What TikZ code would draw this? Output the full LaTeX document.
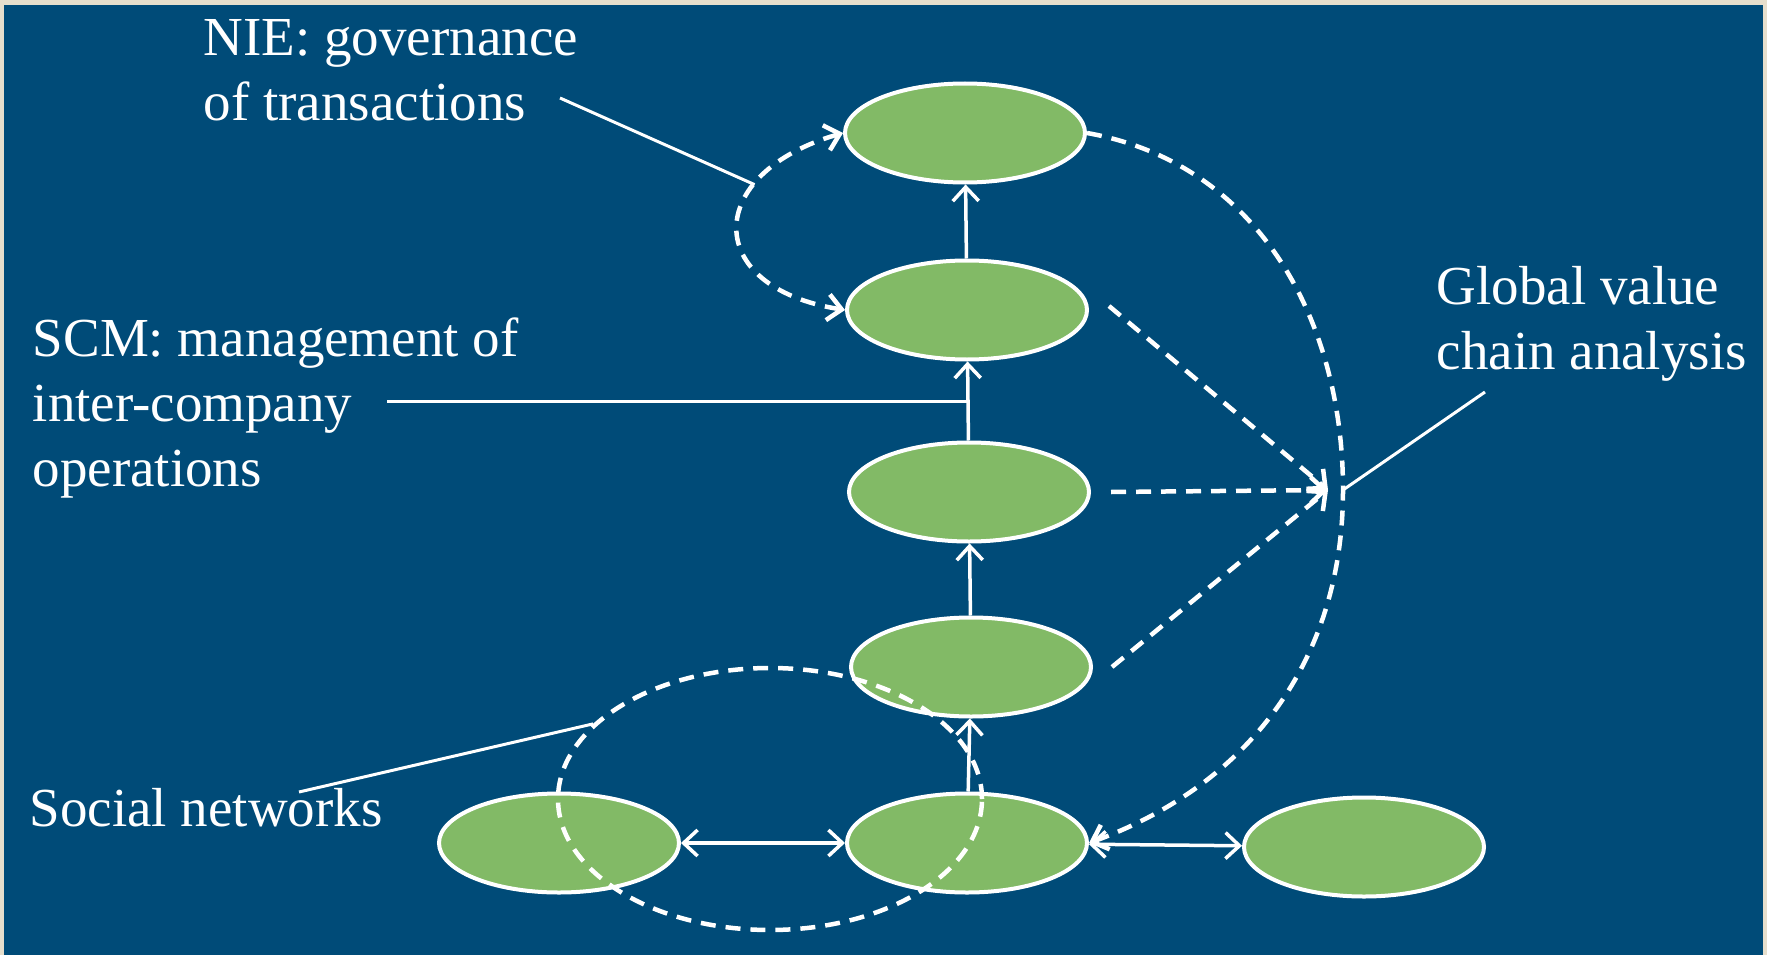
\documentclass[tikz,border=0pt]{standalone}
\usepackage{fontspec}
\setmainfont{Liberation Serif}
\usetikzlibrary{arrows.meta,shapes.geometric}
\definecolor{slideblue}{RGB}{0,75,120}
\definecolor{slideframe}{RGB}{230,222,204}
\definecolor{bubblegreen}{RGB}{130,186,102}
\tikzset{
  bubble/.style={ellipse, draw=white, line width=4pt, fill=bubblegreen,
    minimum width=240pt, minimum height=99pt, inner sep=0pt},
  labeltext/.style={text=white, font=\fontsize{55}{65}\selectfont,
    align=left, inner sep=0pt, anchor=base west},
  dashline/.style={line width=4.5pt, dash pattern=on 15pt off 10pt},
  leader/.style={line width=3pt},
}
\begin{document}
\begin{tikzpicture}[x=1pt, y=-1pt, white, line width=3.5pt,
    >={Straight Barb[length=14pt,width=26pt]}]
  \fill[slideframe] (0,0) rectangle (1767,955);
  \fill[slideblue] (4,5) rectangle (1763,955);
  \useasboundingbox (0,0) rectangle (1767,955);
  % ellipses
  \node[bubble] (A0_1) at (965,133) {};
  \node[bubble] (A1_1) at (967,310) {};
  \node[bubble] (A2_1) at (969,492) {};
  \node[bubble] (A3_1) at (971,667) {};
  \node[bubble] (A4_0) at (559,843) {};
  \node[bubble] (A4_1) at (967,843) {};
  \node[bubble] (A4_2) at (1364,847) {};
  % labels (anchored at the last baseline)
  \node[labeltext] (L_nie) at (202,121) {NIE: governance\\of transactions};
  \node[labeltext] (L_scm) at (31,486) {SCM: management of\\inter-company\\operations};
  \node[labeltext] (L_gvc) at (1435,369) {Global value\\chain analysis};
  \node[labeltext] (L_soc) at (28,826) {Social networks};
  \coordinate (gv) at (1343,490);
  \coordinate (gvtip) at (1328,490);
  \coordinate (nieleg) at (560,98);
  \coordinate (scmleg) at (387,401);
  \coordinate (gvcleg) at (1485,392);
  \coordinate (socleg) at (299,792);
  % solid arrows
  \path (A1_1) edge [->] (A0_1);
  \path (A2_1) edge [->] (A1_1);
  \path (A3_1) edge [->] (A2_1);
  \path (A4_1) edge [->] (A3_1);
  \path (A4_0) edge [<->] (A4_1);
  \path (A4_1) edge [<->] (A4_2);
  % dashed links
  \draw[dashline, <->] (A0_1.west) to[out=196, in=171, looseness=2.1]
    coordinate[pos=0.3] (loopnw) (A1_1.west);
  \draw[dashline, ->] (A0_1.east) to[out=-10, in=90] (gv)
    to[out=-90, in=20] (A4_1.east);
  \draw[dashline, ->] ([xshift=20pt,yshift=4pt]A1_1.east) -- (gvtip);
  \draw[dashline, ->] ([xshift=20pt]A2_1.east) -- (gvtip);
  \draw[dashline, ->] ([xshift=19pt]A3_1.east) -- (gvtip);
  \node[ellipse, draw, dashline, minimum width=424pt, minimum height=262pt,
    inner sep=0pt] (sn) at (770,799) {};
  % leaders
  \draw[leader] (nieleg) -- (loopnw);
  \draw[leader] (scmleg) -- (scmleg -| A2_1);
  \draw[leader] (gvcleg) -- (gv);
  \draw[leader] (socleg) -- (sn.157);
\end{tikzpicture}
\end{document}
